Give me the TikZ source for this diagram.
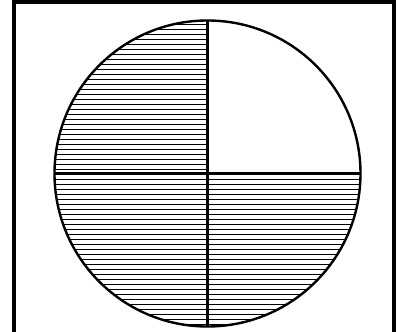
\documentclass[tikz,border=0pt]{standalone}
\usetikzlibrary{calc}
\begin{document}
\begin{tikzpicture}[x=1pt,y=-1pt,
  hatch/.style={line width=1.5pt},
  rim/.style={line width=2.4pt},
  frame/.style={line width=4pt}]
  \useasboundingbox (0,0) rectangle (400,332);
  \clip (0,0) rectangle (400,332);
  \coordinate (O) at (207.5,173.5);
  \coordinate (T) at (207.5,20.5);
  \coordinate (B) at (207.5,326.5);
  \coordinate (W) at (54.5,173.5);
  \coordinate (E) at (360.5,173.5);
  \draw[frame] (14,2) rectangle (394,350);
  % shaded quarters
  \begin{scope}
    \clip (O) circle (153pt);
    \foreach \k in {0,...,31} {
      \draw[hatch] (50,174.5-5*\k) -- (207.5,174.5-5*\k);
      \draw[hatch] (50,174.5+5*\k) -- (365,174.5+5*\k);
    }
  \end{scope}
  \draw[rim] (O) circle (153pt);
  \draw[rim] (T) -- (B);
  \draw[rim] (W) -- (E);
\end{tikzpicture}
\end{document}
